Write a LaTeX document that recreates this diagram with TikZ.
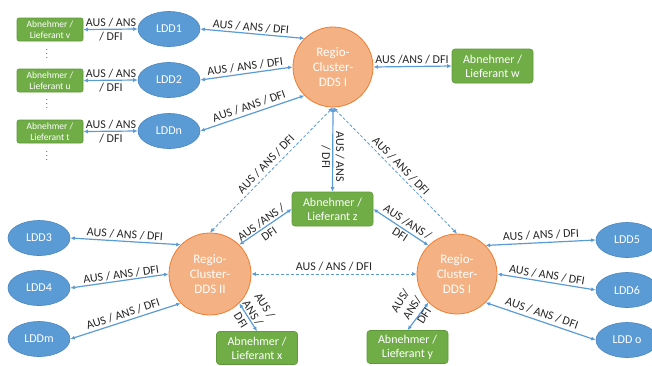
\documentclass[tikz,border=0pt]{standalone}
\usepackage{fontspec}
\setmainfont{Carlito}
\usetikzlibrary{arrows.meta,calc,shapes.geometric}
\definecolor{oblue}{HTML}{5B9BD5}
\definecolor{oblueD}{HTML}{4A86C0}
\definecolor{ogreen}{HTML}{70AD47}
\definecolor{ogreenD}{HTML}{5E9A3A}
\definecolor{oorange}{HTML}{F4B183}
\definecolor{oorangeD}{HTML}{ED7D31}
\definecolor{lbl}{HTML}{262626}
\begin{document}
\begin{tikzpicture}[x=1pt,y=-1pt,
 ldd/.style={ellipse, draw=oblueD, fill=oblue, line width=0.6pt, minimum width=62pt, minimum height=35pt, inner sep=0pt, text=white, font=\fontsize{12}{14}\selectfont},
 dds/.style={circle, draw=oorangeD, fill=oorange, line width=0.8pt, minimum size=80pt, inner sep=0pt, text=white, align=center, font=\fontsize{13}{15}\selectfont},
 gbox/.style={rectangle, rounded corners=3pt, draw=ogreenD, fill=ogreen, line width=0.6pt, minimum width=81pt, minimum height=34pt, inner sep=0pt, text=white, align=center, font=\fontsize{12}{14}\selectfont},
 gsmall/.style={gbox, minimum width=66pt, minimum height=23pt, rounded corners=2pt, font=\fontsize{9.5}{11}\selectfont},
 conn/.style={oblue, line width=1.2pt, {Latex[length=4.5pt,width=4pt]}-{Latex[length=4.5pt,width=4pt]}},
 dconn/.style={oblue, line width=0.8pt, dash pattern=on 3pt off 2pt, {Latex[length=4.5pt,width=4pt]}-{Latex[length=4.5pt,width=4pt]}},
 lab/.style={text=lbl, font=\fontsize{12}{14}\selectfont, inner sep=0pt, align=center},
 vdot/.style={anchor=base, inner sep=0pt, text=lbl, font=\fontsize{8}{8}\selectfont},
]
\useasboundingbox (0,0) rectangle (652,365);

% left small boxes
\node[gsmall] (gv) at (50,29.5) {Abnehmer /\\Lieferant v};
\node[gsmall] (gu) at (50,80.5) {Abnehmer /\\Lieferant u};
\node[gsmall] (gt) at (50,131.5) {Abnehmer /\\Lieferant t};
\node[vdot] (d1) at (47,58.5) {$\vdots$};
\node[vdot] (d2) at (47,108.5) {$\vdots$};
\node[vdot] (d3) at (47,160.5) {$\vdots$};

% LDDs
\node[ldd] (l1) at (169,29) {LDD1};
\node[ldd] (l2) at (169,80) {LDD2};
\node[ldd] (ln) at (169,131) {LDDn};
\node[ldd] (l3) at (39,238) {LDD3};
\node[ldd] (l4) at (39,288) {LDD4};
\node[ldd] (lm) at (39,339) {LDDm};
\node[ldd] (l5) at (627,240) {LDD5};
\node[ldd] (l6) at (627,290) {LDD6};
\node[ldd] (lo) at (627,340) {LDD o};

% clusters
\node[dds] (c1) at (333,67) {Regio-\\Cluster-\\DDS I};
\node[dds, minimum size=82pt] (c2) at (210,274) {Regio-\\Cluster-\\DDS II};
\node[dds] (c3) at (457,274) {Regio-\\Cluster-\\DDS I};

% big green boxes
\node[gbox] (gw) at (492.5,66) {Abnehmer /\\Lieferant w};
\node[gbox] (gz) at (332.5,209) {Abnehmer /\\Lieferant z};
\node[gbox, minimum height=33pt] (gx) at (257,348) {Abnehmer /\\Lieferant x};
\node[gbox, minimum height=33pt] (gy) at (407.5,347) {Abnehmer /\\Lieferant y};

% connectors
\draw[conn] (gv.east) -- (l1.west);
\draw[conn] (gu.east) -- (l2.west);
\draw[conn] (gt.east) -- (ln.west);
\draw[conn] (l1.east) -- (c1.135);
\draw[conn] (l2.east) -- (c1.180);
\draw[conn] (ln.east) -- (c1.225);
\draw[conn] (c1.east) -- (gw.west);
\draw[conn] (c1.south) -- (gz.north);
\draw[dconn] (c1.south) -- (c2.north);
\draw[dconn] (c1.south) -- (c3.north);
\draw[conn] (gz.west) -- (c2.45);
\draw[conn] (gz.east) -- (c3.135);
\draw[dconn] (c2.east) -- (c3.west);
\draw[conn] (l3.east) -- (c2.135);
\draw[conn] (l4.east) -- (c2.180);
\draw[conn] (lm.east) -- (c2.225);
\draw[conn] (c2.-45) -- (gx.north);
\draw[conn] (c3.45) -- (l5.west);
\draw[conn] (c3.east) -- (l6.west);
\draw[conn] (c3.-45) -- (lo.west);
\draw[conn] (c3.225) -- (gy.north);

% labels
\node[lab] (t1) at (111,30) {AUS / ANS\\/ DFI};
\node[lab] (t2) at (111,81) {AUS / ANS\\/ DFI};
\node[lab] (t3) at (111,132) {AUS / ANS\\/ DFI};
\node[lab, rotate=-5] (t4) at (251,27) {AUS / ANS / DFI};
\node[lab, rotate=8] (t5) at (245,66.5) {AUS / ANS / DFI};
\node[lab, rotate=19] (t6) at (249,106) {AUS / ANS / DFI};
\node[lab] (t7) at (412,59.5) {AUS /ANS / DFI};
\node[lab, rotate=-90] (t8) at (333,157) {AUS / ANS\\/ DFI};
\node[lab, rotate=46] (t9) at (266,164) {AUS / ANS / DFI};
\node[lab, rotate=-46] (t10) at (401,166) {AUS / ANS / DFI};
\node[lab, rotate=35] (t11) at (265,228) {AUS /ANS /\\DFI};
\node[lab, rotate=-33] (t12) at (404,228) {AUS /ANS /\\DFI};
\node[lab] (t13) at (334,267) {AUS / ANS / DFI};
\node[lab, rotate=-4] (t14) at (125,234.5) {AUS / ANS / DFI};
\node[lab, rotate=8] (t15) at (121,274.5) {AUS / ANS / DFI};
\node[lab, rotate=18] (t16) at (123,314) {AUS / ANS / DFI};
\node[lab, rotate=-58] (t17) at (253,313) {AUS /\\ANS /\\DFI};
\node[lab, rotate=58] (t18) at (412,308) {AUS/\\ANS/\\DFI};
\node[lab, rotate=3] (t19) at (541,235) {AUS / ANS / DFI};
\node[lab, rotate=-9] (t20) at (547,275) {AUS / ANS / DFI};
\node[lab, rotate=-19] (t21) at (542,313) {AUS / ANS / DFI};
\end{tikzpicture}
\end{document}
